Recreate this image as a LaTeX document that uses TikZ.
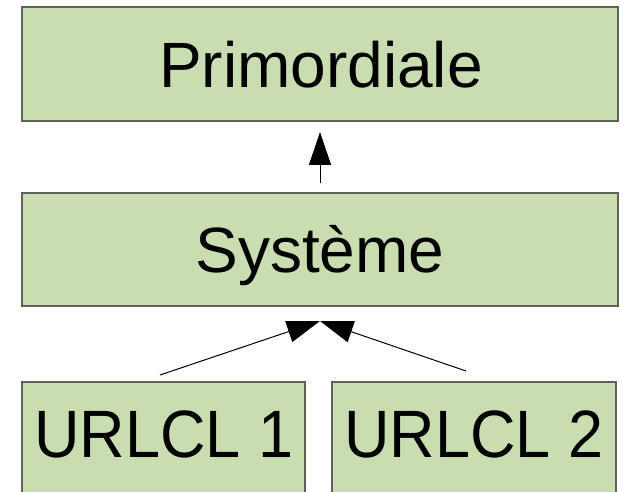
\documentclass[tikz,border=0pt]{standalone}
\usepackage{fontspec}
\setmainfont{Liberation Sans}
\usetikzlibrary{arrows.meta}
\definecolor{boxfill}{HTML}{C9DDB0}
\definecolor{boxline}{HTML}{5E6358}
\tikzset{
  box/.style={draw=boxline, line width=1.2pt, fill=boxfill, inner sep=0pt},
  lbl/.style={font=\fontsize{64}{64}\selectfont, text height=45.8pt, text depth=0pt, inner sep=0pt},
  lblb/.style={font=\fontsize{67}{67}\selectfont, text height=48pt, text depth=0pt, inner sep=0pt, xscale=0.94},
  conn/.style={draw=black, line width=1pt, -{Triangle[length=33pt, width=22pt]}}
}
\begin{document}
\begin{tikzpicture}[x=1pt, y=-1pt]
\useasboundingbox (0,0) rectangle (622,492);
\clip (0,0) rectangle (622,492);
\node[box, minimum width=596pt, minimum height=114pt] (prim) at (320,64) {};
\node[box, minimum width=596pt, minimum height=113pt] (sys) at (320,249.5) {};
\node[box, minimum width=283pt, minimum height=113pt] (u1) at (163.5,438.5) {};
\node[box, minimum width=284pt, minimum height=113pt] (u2) at (474,438.5) {};
\node[lbl] (tprim) at (321,65) {Primordiale};
\node[lbl] (tsys) at (320,250) {Système};
\node[lblb] (tu1) at (164,433) {URLCL 1};
\node[lblb] (tu2) at (474,433) {URLCL 2};
\coordinate (upS) at (320,183);
\coordinate (upT) at (320,132);
\coordinate (l1S) at (160,375);
\coordinate (l2S) at (466,371);
\coordinate (mT) at (320,321);
\draw[conn] (upS) -- (upT);
\draw[conn] (l1S) -- (mT);
\draw[conn] (l2S) -- (mT);
\end{tikzpicture}
\end{document}
